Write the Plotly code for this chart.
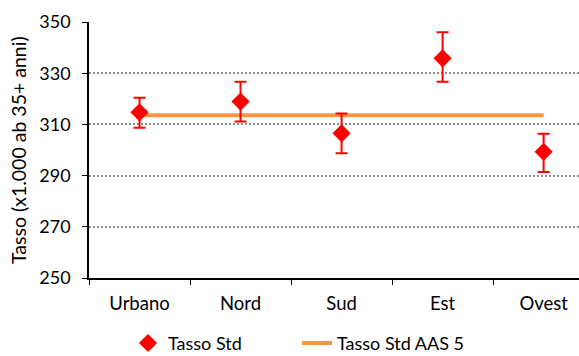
import plotly.graph_objects as go

categories = ["Urbano", "Nord", "Sud", "Est", "Ovest"]
tasso_std = [314.7, 318.9, 306.5, 335.8, 299.3]
err_plus = [5.7, 7.8, 7.8, 10.2, 7.0]
err_minus = [6.0, 7.8, 7.8, 9.1, 7.9]
tasso_aas = [313.6, 313.6, 313.6, 313.6, 313.6]
y_ticks = [250, 270, 290, 310, 330, 350]

FONT = "Lato, Open Sans, sans-serif"

fig = go.Figure()
fig.add_trace(go.Scatter(
    x=categories, y=tasso_aas, mode="lines", name="Tasso Std AAS 5",
    line=dict(color="#F79646", width=4), legend="legend2",
))
fig.add_trace(go.Scatter(
    x=categories, y=tasso_std, mode="markers", name="Tasso Std",
    marker=dict(symbol="diamond", size=14, color="#FF0000"),
    error_y=dict(type="data", symmetric=False, array=err_plus, arrayminus=err_minus,
                 color="#FF0000", thickness=2, width=6),
    legend="legend",
))

fig.add_annotation(
    text="Tasso (x1.000 ab 35+ anni)", textangle=-90,
    xref="paper", yref="paper", x=-0.145, y=0.5, xanchor="center", yanchor="middle",
    showarrow=False, font=dict(size=19.5, color="#000000"),
)

leg_common = dict(orientation="h", xanchor="left", y=-0.255, yanchor="middle",
                  font=dict(size=18), bgcolor="rgba(0,0,0,0)")

fig.update_layout(
    width=579, height=356,
    margin=dict(l=89, r=0, t=22, b=78, autoexpand=False),
    paper_bgcolor="white", plot_bgcolor="white",
    font=dict(family=FONT, size=18, color="#000000"),
    showlegend=True,
    legend=dict(x=0.0796, **leg_common),
    legend2=dict(x=0.4245, **leg_common),
    xaxis=dict(
        type="category", range=[-0.5, 4.35], automargin=False,
        showline=True, linecolor="#000000", linewidth=1.5,
        ticks="outside", tickson="boundaries", ticklen=5, tickcolor="#000000",
        showgrid=False, tickfont=dict(size=18.5), ticklabelstandoff=8,
    ),
    yaxis=dict(
        range=[250, 350], tickvals=y_ticks, automargin=False,
        showline=True, linecolor="#000000", linewidth=1.5,
        ticks="outside", ticklen=5, tickcolor="#000000",
        showgrid=True, gridcolor="#909090", griddash="2px,2px", gridwidth=1.5,
        zeroline=False, tickfont=dict(size=18), ticklabelstandoff=8,
    ),
)

fig.write_html("out.html", config={"displayModeBar": False},
               post_script="document.body.style.margin='0';")
